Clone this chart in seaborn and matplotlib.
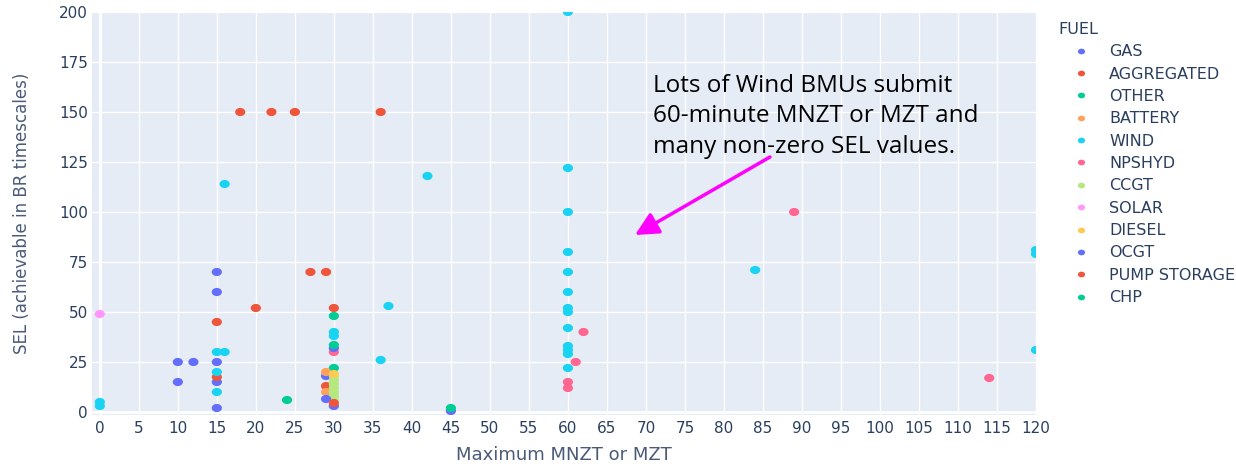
import numpy as np
import pandas as pd
import matplotlib
matplotlib.use("Agg")
import matplotlib.pyplot as plt
import seaborn as sns
from matplotlib.path import Path

# ---------------- data ----------------
fuels = ["GAS", "AGGREGATED", "OTHER", "BATTERY", "WIND", "NPSHYD", "CCGT",
         "SOLAR", "DIESEL", "OCGT", "PUMP STORAGE", "CHP"]
fuel_colors = ["#636EFA", "#EF553B", "#00CC96", "#FFA15A", "#19D3F3", "#FF6692",
               "#B6E880", "#FF97FF", "#FECB52", "#636EFA", "#EF553B", "#00CC96"]

gas_x = [10, 10, 12, 15, 15, 15, 15, 15, 29, 45]
gas_y = [25, 15, 25, 70, 60, 25, 15, 2, 18, 0.5]
aggregated_x = [15, 15, 20, 27, 29, 29, 30]
aggregated_y = [45, 17.5, 52, 70, 70, 13, 52]
other_x = [24, 30, 30]
other_y = [6, 48, 22]
battery_x = [29, 29]
battery_y = [20, 10]
wind_x = [0, 0, 15, 15, 15, 16, 16, 30, 30, 36, 37, 42,
          60, 60, 60, 60, 60, 60, 60, 60, 60, 60, 60, 60, 60,
          84, 120, 120, 120]
wind_y = [3, 5, 30, 20, 10, 30, 114, 40, 38, 26, 53, 118,
          200, 122, 100, 80, 70, 60, 52, 50, 42, 33, 31, 29, 22,
          71, 81, 79, 31]
npshyd_x = [30, 60, 60, 61, 62, 89, 114]
npshyd_y = [30, 15, 12, 25, 40, 100, 17]
ccgt_x = [30, 30, 30, 30, 30, 30, 30]
ccgt_y = [18, 16, 14, 12, 10, 8, 6]
solar_x = [0]
solar_y = [49]
diesel_x = [30]
diesel_y = [19]
ocgt_x = [29, 30, 30]
ocgt_y = [6.5, 3, 32]
pump_storage_x = [18, 22, 25, 36, 30]
pump_storage_y = [150, 150, 150, 150, 4.5]
chp_x = [30, 45]
chp_y = [33.5, 2]

x_ticks = list(range(0, 121, 5))
y_ticks = list(range(0, 201, 25))

series = {
    "GAS": (gas_x, gas_y), "AGGREGATED": (aggregated_x, aggregated_y),
    "OTHER": (other_x, other_y), "BATTERY": (battery_x, battery_y),
    "WIND": (wind_x, wind_y), "NPSHYD": (npshyd_x, npshyd_y),
    "CCGT": (ccgt_x, ccgt_y), "SOLAR": (solar_x, solar_y),
    "DIESEL": (diesel_x, diesel_y), "OCGT": (ocgt_x, ocgt_y),
    "PUMP STORAGE": (pump_storage_x, pump_storage_y), "CHP": (chp_x, chp_y),
}
frames = [pd.DataFrame({"x": xs, "y": ys, "FUEL": f}) for f, (xs, ys) in series.items()]
df = pd.concat(frames, ignore_index=True)

# ---------------- style ----------------
sns.set_theme(style="darkgrid")
plt.rcParams["font.family"] = ["DejaVu Sans"]
text_col = "#2a3f5f"
label_col = "#4a5a78"

fig = plt.figure(figsize=(12.36, 4.66), dpi=100)
ax = fig.add_axes([92 / 1236, 1 - 415 / 466, (1036 - 92) / 1236, (415 - 12) / 466])
ax.set_facecolor("#E5ECF6")

t = np.linspace(0, 2 * np.pi, 41)
ell = Path(np.column_stack([np.cos(t), 0.8 * np.sin(t)]), closed=True)

sns.scatterplot(data=df, x="x", y="y", hue="FUEL", hue_order=fuels,
                palette=dict(zip(fuels, fuel_colors)), s=54, marker=ell,
                linewidth=0, ax=ax, zorder=3)

ax.set_xlim(-1, 120)
ax.set_ylim(-1.5, 200)
ax.set_xticks(x_ticks)
ax.set_yticks(y_ticks)
ax.grid(True, color="white", linewidth=1)
ax.axhline(0, color="white", linewidth=2, zorder=1)
ax.axvline(0, color="white", linewidth=2, zorder=1)
for sp in ax.spines.values():
    sp.set_visible(False)
ax.tick_params(axis="both", length=0, colors=text_col, labelsize=11)
ax.tick_params(axis="x", pad=4)
ax.tick_params(axis="y", pad=3)
ax.set_xlabel("Maximum MNZT or MZT", fontsize=13, color=label_col)
ax.set_ylabel("SEL (achievable in BR timescales)", fontsize=12, color=label_col)
ax.xaxis.set_label_coords(0.5, (415 - 455) / 403)
ax.xaxis.label.set_va("center")
ax.yaxis.set_label_coords((22 - 92) / 944, 0.5)
ax.yaxis.label.set_va("center")

leg = ax.legend(title="FUEL", loc="upper left", bbox_to_anchor=(1050 / 1236, 1 - 14 / 466),
                bbox_transform=fig.transFigure, frameon=False, fontsize=11.5,
                title_fontsize=11.5, alignment="left", markerscale=0.7,
                handlelength=2.9, handletextpad=0.3, labelspacing=0.46, borderpad=0)
for txt in leg.get_texts():
    txt.set_color(text_col)
leg.get_title().set_color(text_col)

ax.text(70.9, 169, "Lots of Wind BMUs submit\n60-minute MNZT or MZT and\nmany non-zero SEL values.",
        fontsize=17.5, color="black", va="top", ha="left", linespacing=1.36,
        family="Open Sans", zorder=5)
ax.annotate("", xy=(68.6, 88.5), xytext=(85.9, 127.5),
            arrowprops=dict(arrowstyle="-|>,head_length=0.7,head_width=0.35",
                            color="#FF00FF", lw=2.5, mutation_scale=20,
                            shrinkA=0, shrinkB=0), zorder=5)

fig.savefig("out.png", dpi=100)
